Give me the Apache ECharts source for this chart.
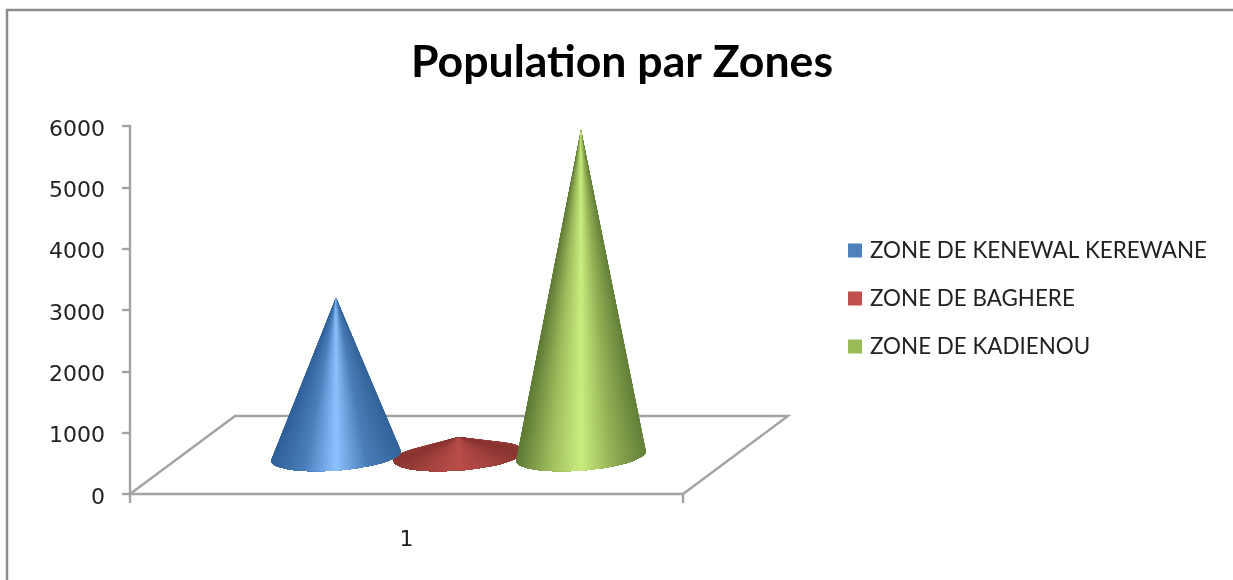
<!DOCTYPE html>
<html>
<head>
<meta charset="utf-8">
<style>html,body{margin:0;padding:0;background:#fff}#c{width:1233px;height:580px}</style>
<script src="https://cdn.jsdelivr.net/npm/echarts@6/dist/echarts.min.js"></script>
</head>
<body>
<div id="c"></div>
<script>
const categories = ['1'];
const yTicks = [0, 1000, 2000, 3000, 4000, 5000, 6000];
const zoneNames = ['ZONE DE KENEWAL KEREWANE', 'ZONE DE BAGHERE', 'ZONE DE KADIENOU'];
const zoneValues = [2580, 310, 5315];
const zoneColors = ['#4f81bd', '#c0504d', '#9bbb59'];
const zoneShades = [
  ['#30619a', '#4a7fbb', '#8cc2ff', '#4a7db6', '#33659b'],
  ['#8c3633', '#a64440', '#b84d49', '#a54441', '#8a3532'],
  ['#5f7a36', '#9dbb5c', '#cbee80', '#93b055', '#64803a']
];

const chart = echarts.init(document.getElementById('c'), null, {renderer: 'canvas'});

const baseValue = 620;       // axis height of the cone-base centres on the projected floor
const floorBackValue = 1272; // axis height of the back edge of the floor
const depthShift = 52;
const spacing = 122.5;
const radiusX = 65, radiusY = 14.5, tilt = -4.4 * Math.PI / 180;

function coneItem(index) {
  return function (params, api) {
    const band = api.coord([0, 0])[0];
    const cx = band + depthShift + (index - 1) * spacing;
    const cy = api.coord([0, baseValue])[1];
    const tipY = api.coord([0, baseValue + api.value(1)])[1];
    const dx = 0, dy = tipY - cy;
    // tip in the ellipse's own frame, then the two tangent points of the silhouette
    const lx = dx * Math.cos(tilt) + dy * Math.sin(tilt);
    const ly = -dx * Math.sin(tilt) + dy * Math.cos(tilt);
    const u = lx / radiusX, v = ly / radiusY;
    const phi = Math.atan2(v, u), spread = Math.acos(1 / Math.hypot(u, v));
    const t0 = phi + spread, t1 = phi - spread + 2 * Math.PI;
    const n = 144, pts = [];
    for (let i = 0; i <= n; i++) {
      const t = t0 + (t1 - t0) * i / n;
      const ex = radiusX * Math.cos(t), ey = radiusY * Math.sin(t);
      pts.push([cx + ex * Math.cos(tilt) - ey * Math.sin(tilt),
                cy + ex * Math.sin(tilt) + ey * Math.cos(tilt)]);
    }
    const tip = [cx, tipY];
    const s = zoneShades[index];
    const mid = n / 2;
    const shade = function (p) {
      const f = Math.min(1, Math.max(0, (p[0] - (cx - radiusX)) / (2 * radiusX)));
      return echarts.color.lerp(f, s);
    };
    const children = [];
    // nested shapes painted from each edge inward, so no seams can show
    for (let i = 0; i < mid; i++) {
      children.push({
        type: 'polygon',
        shape: {points: [tip].concat(pts.slice(i, mid + 1))},
        style: {fill: shade(pts[i])}
      });
    }
    for (let i = n; i > mid; i--) {
      children.push({
        type: 'polygon',
        shape: {points: [tip].concat(pts.slice(mid - 1, i + 1))},
        style: {fill: shade(pts[i])}
      });
    }
    // a last narrow wedge closes the middle of the highlight
    children.push({
      type: 'polygon',
      shape: {points: [tip].concat(pts.slice(mid - 2, mid + 1))},
      style: {fill: shade(pts[mid - 1])}
    });
    return {type: 'group', children: children};
  };
}

function floorItem(params, api) {
  const cs = params.coordSys;
  const frontY = api.coord([0, 0])[1];
  const backY = api.coord([0, floorBackValue])[1];
  const l = cs.x, r = cs.x + cs.width;
  const shift = 105;
  return {
    type: 'polyline',
    shape: {points: [[l, frontY], [l + shift, backY], [r + shift, backY], [r, frontY]]},
    style: {fill: null, stroke: '#a3a3a3', lineWidth: 2.4}
  };
}

const order = [1, 0, 2]; // the red cone sits behind its neighbours
const zSeries = {0: 3, 1: 2, 2: 4};

chart.setOption({
  animation: false,
  backgroundColor: '#fff',
  title: {
    text: 'Population par Zones',
    left: 406, top: 35,
    textStyle: {fontFamily: 'Lato', fontWeight: 'bold', fontSize: 44.6, color: '#000'}
  },
  legend: {
    orient: 'vertical',
    left: 843, top: 233,
    itemWidth: 14, itemHeight: 14, itemGap: 23,
    icon: 'rect',
    data: zoneNames,
    selectedMode: false,
    textStyle: {fontFamily: 'Lato', fontSize: 22.4, color: '#222', padding: [0, 0, 0, 3], height: 25, lineHeight: 25}
  },
  grid: {left: 130, top: 126, width: 553, height: 368},
  xAxis: {
    type: 'category',
    data: categories,
    axisLine: {lineStyle: {color: '#a3a3a3', width: 2.4}},
    axisTick: {show: true, length: 9, lineStyle: {color: '#a3a3a3', width: 2.4}},
    axisLabel: {fontFamily: 'DejaVu Sans', fontSize: 22, color: '#222', margin: 35},
    splitLine: {show: false}
  },
  yAxis: {
    type: 'value',
    min: yTicks[0], max: yTicks[yTicks.length - 1], interval: 1000,
    axisLine: {show: true, lineStyle: {color: '#a3a3a3', width: 2.4}},
    axisTick: {show: true, length: 8, lineStyle: {color: '#a3a3a3', width: 2.4}},
    axisLabel: {
      fontFamily: 'DejaVu Sans', fontSize: 22, color: '#222', margin: 25,
      verticalAlign: 'top', lineHeight: 8,
      formatter: function (v) { return String(v); }
    },
    splitLine: {show: false}
  },
  graphic: [{
    type: 'rect', silent: true, z: -1,
    shape: {x: 7, y: 10, width: 1400, height: 800},
    style: {fill: null, stroke: '#8c8c8c', lineWidth: 2.4}
  }],
  series: [
    {type: 'custom', name: 'floor', renderItem: floorItem, data: [[0, 0]], z: 1, silent: true, coordinateSystem: 'cartesian2d'}
  ].concat(order.map(function (i) {
    return {
      type: 'custom',
      name: zoneNames[i],
      coordinateSystem: 'cartesian2d',
      renderItem: coneItem(i),
      itemStyle: {color: zoneColors[i]},
      encode: {x: 0, y: 1},
      data: [[0, zoneValues[i]]],
      z: zSeries[i]
    };
  }))
});
</script>
</body>
</html>
